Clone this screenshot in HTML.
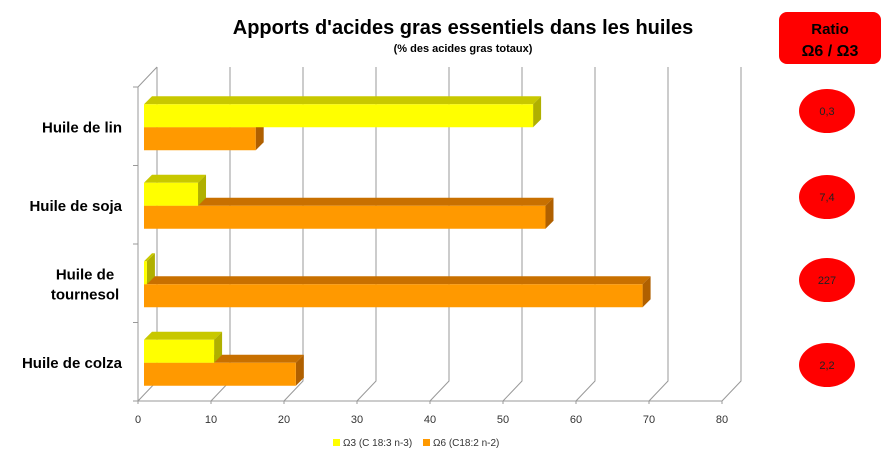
<!DOCTYPE html>
<html><head><meta charset="utf-8"><style>
body{margin:0;background:#fff;width:895px;height:463px;overflow:hidden;font-family:"Liberation Sans",sans-serif}
</style></head><body>
<svg id="c" width="895" height="463" font-family="Liberation Sans, sans-serif">
<text x="463" y="34" text-anchor="middle" font-size="20" font-weight="bold">Apports d'acides gras essentiels dans les huiles</text>
<text x="463" y="52" text-anchor="middle" font-size="11" font-weight="bold">(% des acides gras totaux)</text>
<rect x="779" y="12" width="102" height="52" rx="8" fill="#ff0000"/>
<text x="830" y="34" text-anchor="middle" font-size="15" font-weight="bold">Ratio</text>
<text x="830" y="56" text-anchor="middle" font-size="16" font-weight="bold">Ω6 / Ω3</text>
<g id="grid"></g><g id="bars"></g><g id="labels"></g>
<rect x="333" y="439" width="7" height="7" fill="#ffff00"/>
<text x="343" y="446" font-size="10" fill="#333">Ω3 (C 18:3 n-3)</text>
<rect x="423" y="439" width="7" height="7" fill="#ff9900"/>
<text x="433" y="446" font-size="10" fill="#333">Ω6 (C18:2 n-2)</text>
</svg>
<script>
const categories=["Huile de lin","Huile de soja","Huile de tournesol","Huile de colza"];
const omega3=[53.3,7.4,0.4,9.6];
const omega6=[15.3,55,68.3,20.8];
const ratios=["0,3","7,4","227","2,2"];
const ticks=[0,10,20,30,40,50,60,70,80];
const NS="http://www.w3.org/2000/svg";
const X0=138,SX=7.3,FY=401,TY=87,DX=19,DY=-20;
const xs=v=>X0+v*SX;
const catTop=i=>TY+i*(FY-TY)/4;
function mk(t,a,p){const e=document.createElementNS(NS,t);for(const k in a)e.setAttribute(k,a[k]);p.appendChild(e);return e;}
const g=document.getElementById('grid'),b=document.getElementById('bars'),l=document.getElementById('labels');
// walls
let w=mk('path',{d:`M${X0} ${FY}L${X0} ${TY}L${X0+DX} ${TY+DY}`,stroke:'#999',fill:'none'},g);


w=mk('line',{x1:X0,y1:FY,x2:xs(80),y2:FY,stroke:'#999'},g);


ticks.forEach(t=>{
 const x=xs(t);
 let p=mk('path',{d:`M${x} ${FY+3}L${x} ${FY}L${x+DX} ${FY+DY}L${x+DX} ${TY+DY}`,stroke:'#999',fill:'none'},g);
 
 
 let tx=mk('text',{x:x,y:FY+22,'text-anchor':'middle','font-size':11,fill:'#333'},g);
 tx.textContent=t;
 
 
});
for(let i=0;i<=4;i++){
 const y=catTop(i);
 let t=mk('line',{x1:X0-5,y1:y,x2:X0,y2:y,stroke:'#999'},g);
 
 
}
const BX=144,BH=23,D=8;
function bar(v,y,front,top,side,name){
 const x1=BX+v*SX;
 const gg=mk('g',{},b);
 
 
 mk('polygon',{points:`${BX},${y} ${BX+D},${y-D} ${x1+D},${y-D} ${x1},${y}`,fill:top},gg);
 mk('polygon',{points:`${x1},${y} ${x1+D},${y-D} ${x1+D},${y+BH-D} ${x1},${y+BH}`,fill:side},gg);
 mk('rect',{x:BX,y:y,width:Math.max(0,x1-BX),height:BH,fill:front},gg);
}
categories.forEach((c,i)=>{
 const yc=catTop(i)+(FY-TY)/8+1;
 bar(omega6[i],yc,'#ff9900','#c87000','#b06000','bar-omega6-'+i);
 bar(omega3[i],yc-BH,'#ffff00','#c8c800','#b0b000','bar-omega3-'+i);
 const words=c==="Huile de tournesol"?["Huile de","tournesol"]:[c];
 const ly=catTop(i)+(FY-TY)/8+6-(words.length-1)*10;
 words.forEach((wd,k)=>{
  let t=mk('text',{x:words.length>1?85:122,y:ly+k*20,'text-anchor':words.length>1?'middle':'end','font-size':15,'font-weight':'bold'},l);
  t.textContent=wd;
  
  
 });
 const cy=[111,197,280,365][i];
 let e=mk('ellipse',{cx:827,cy:cy,rx:28,ry:22,fill:'#ff0000'},l);
 
 
 let rt=mk('text',{x:827,y:cy+4,'text-anchor':'middle','font-size':11,fill:'#222'},l);
 rt.textContent=ratios[i];
 
 
});
</script>
</body></html>
